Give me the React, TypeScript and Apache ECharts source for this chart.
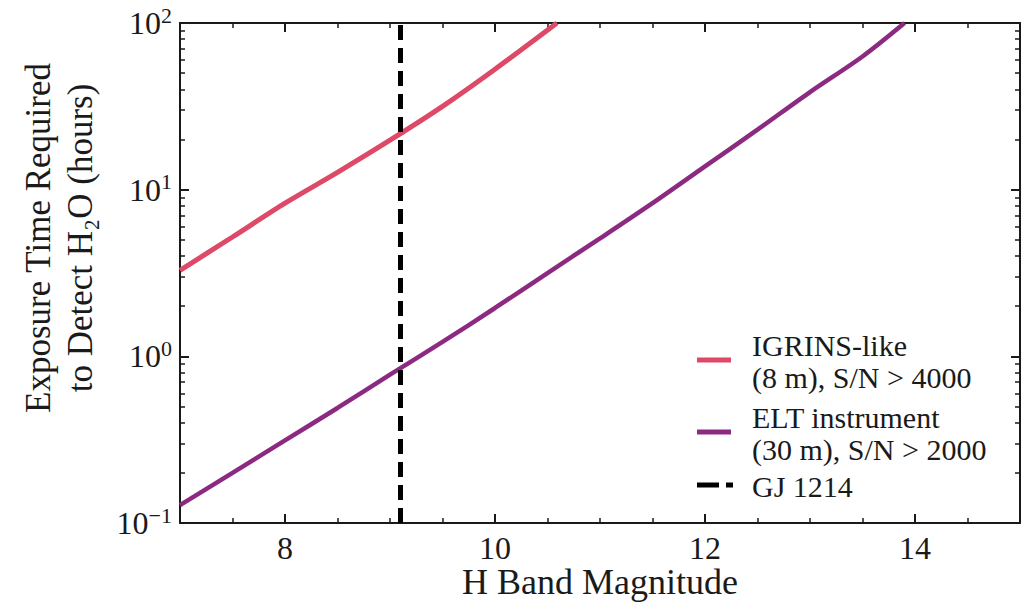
import React, { useEffect, useRef } from "react";
import * as echarts from "echarts";

const igrinsH = [7, 7.5, 8, 8.5, 9, 9.5, 10, 10.59];
const igrinsHours = [3.28, 5.2, 8.3, 12.7, 19.8, 31.6, 52.8, 100];
const eltH = [7, 7.5, 8, 8.5, 9, 9.5, 10, 10.5, 11, 11.5, 12, 12.5, 13, 13.5, 13.9];
const eltHours = [0.128, 0.2, 0.313, 0.49, 0.776, 1.22, 1.95, 3.16, 5.1, 8.3, 13.8, 22.9, 38.5, 63, 100];
const gjH = 9.1;
const gjRange = [0.1, 100];

const xMajor = [8, 10, 12, 14];
const yMajor = [0.1, 1, 10, 100];
const yMinor = [0.2, 0.3, 0.4, 0.5, 0.6, 0.7, 0.8, 0.9, 2, 3, 4, 5, 6, 7, 8, 9, 20, 30, 40, 50, 60, 70, 80, 90];

const seriesNames = [
  "IGRINS-like\n(8 m), S/N > 4000",
  "ELT instrument\n(30 m), S/N > 2000",
  "GJ 1214",
];
const seriesColors = ["#de4968", "#8c2981", "#000000"];
const xName = "H Band Magnitude";
const yName = "Exposure Time Required\nto Detect H\u2082O (hours)";

const SERIF = "'Liberation Serif', 'DejaVu Serif', serif";
const INK = "#1a1a1a";

export default function App() {
  const ref = useRef<HTMLDivElement>(null);
  useEffect(() => {
    document.body.style.margin = "0";
    const chart = echarts.init(ref.current!, null, { renderer: "svg" });

    const xAxes: any[] = [];
    ["bottom", "top"].forEach((pos, k) => {
      xAxes.push({
        type: "value", min: 7, max: 15, position: pos, splitLine: { show: false },
        axisLine: { show: true, onZero: false, lineStyle: { color: INK, width: 2 } },
        axisTick: { show: true, inside: true, length: 9, lineStyle: { color: INK, width: 2 }, customValues: xMajor },
        axisLabel: { show: k === 0, customValues: xMajor, fontFamily: SERIF, fontSize: 32, color: INK, margin: 9 },
      });
      xAxes.push({
        type: "value", min: 7, max: 15, interval: 0.5, position: pos, splitLine: { show: false },
        axisLine: { show: false, onZero: false },
        axisTick: { show: true, inside: true, length: 5, lineStyle: { color: INK, width: 1.5 } },
        axisLabel: { show: false },
      });
    });
    const yAxes: any[] = [];
    ["left", "right"].forEach((pos, k) => {
      yAxes.push({
        type: "log", logBase: 10, min: 0.1, max: 100, position: pos, splitLine: { show: false },
        axisLine: { show: true, onZero: false, lineStyle: { color: INK, width: 2 } },
        axisTick: { show: true, inside: true, length: 9, lineStyle: { color: INK, width: 2 }, customValues: yMajor },
        axisLabel: {
          show: k === 0, customValues: yMajor, margin: 8,
          formatter: (v: number) => {
            const e = Math.round(Math.log10(v));
            return `{b|10}{s|${e < 0 ? "\u2212" + -e : e}}`;
          },
          rich: {
            b: { fontFamily: SERIF, fontSize: 32, color: INK },
            s: { fontFamily: SERIF, fontSize: 22, color: INK, padding: [0, 0, 16, 0] },
          },
        },
      });
      yAxes.push({
        type: "log", min: 0.1, max: 100, position: pos, splitLine: { show: false },
        axisLine: { show: false, onZero: false },
        axisTick: { show: true, inside: true, length: 5, lineStyle: { color: INK, width: 1.5 }, customValues: yMinor },
        axisLabel: { show: false },
      });
    });

    const legendRows = [360, 432, 485];
    const legendGraphics: any[] = [];
    legendRows.forEach((y, i) => {
      if (i < 2) {
        legendGraphics.push({ type: "rect", shape: { x: 697, y: y - 2.5, width: 34, height: 5 }, style: { fill: seriesColors[i] } });
      } else {
        legendGraphics.push({ type: "rect", shape: { x: 697, y: y - 2.5, width: 22, height: 5 }, style: { fill: seriesColors[i] } });
        legendGraphics.push({ type: "rect", shape: { x: 726, y: y - 2.5, width: 7, height: 5 }, style: { fill: seriesColors[i] } });
      }
      legendGraphics.push({
        type: "text", x: 752, y: y + 1,
        style: { text: seriesNames[i], font: `30px ${SERIF}`, fill: INK, align: "left", verticalAlign: "middle", lineHeight: 32 },
      });
    });

    chart.setOption({
      animation: false,
      grid: { left: 180, right: 2, top: 23, bottom: 86 },
      xAxis: xAxes,
      yAxis: yAxes,
      graphic: [
        {
          type: "text", x: 600, y: 582,
          style: { text: xName, font: `36px ${SERIF}`, fill: INK, align: "center", verticalAlign: "middle" },
        },
        {
          type: "text", x: 59, y: 238, rotation: Math.PI / 2,
          style: { text: yName, font: `35px ${SERIF}`, fill: INK, align: "center", verticalAlign: "middle", lineHeight: 42 },
        },
        ...legendGraphics,
      ],
      series: [
        {
          name: seriesNames[0], type: "line", smooth: 0.3, symbol: "none",
          lineStyle: { color: seriesColors[0], width: 5 }, itemStyle: { color: seriesColors[0] },
          data: igrinsH.map((x, i) => [x, igrinsHours[i]]),
        },
        {
          name: seriesNames[1], type: "line", smooth: 0.3, symbol: "none",
          lineStyle: { color: seriesColors[1], width: 4.5 }, itemStyle: { color: seriesColors[1] },
          data: eltH.map((x, i) => [x, eltHours[i]]),
        },
        {
          name: seriesNames[2], type: "line", symbol: "none",
          lineStyle: { color: seriesColors[2], width: 5, type: [15, 8] }, itemStyle: { color: seriesColors[2] },
          data: gjRange.map((y) => [gjH, y]),
        },
      ],
    });
    return () => chart.dispose();
  }, []);
  return <div ref={ref} style={{ width: 1022, height: 609 }} />;
}
